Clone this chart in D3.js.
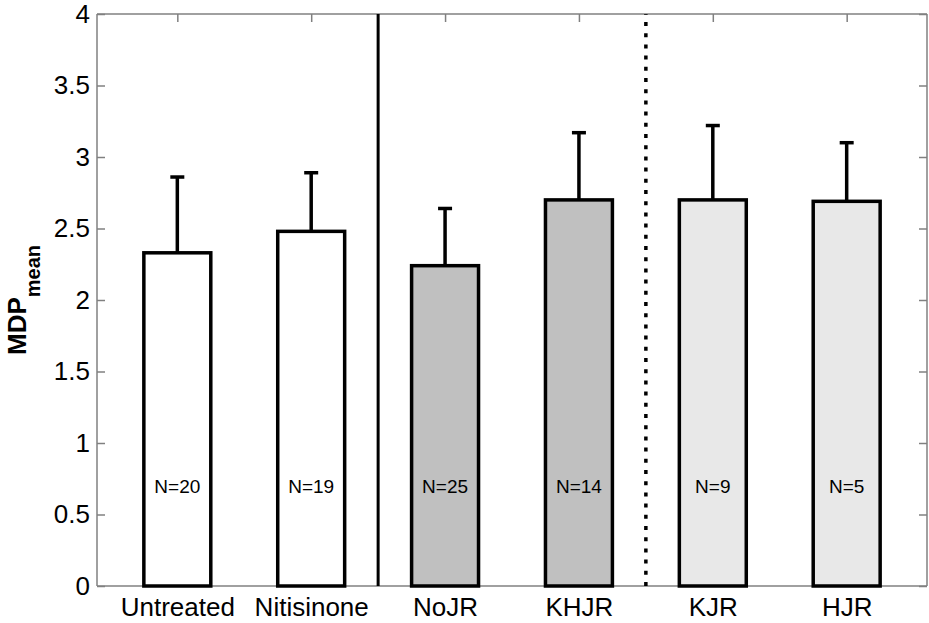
<!DOCTYPE html>
<html>
<head>
<meta charset="utf-8">
<script src="https://cdn.jsdelivr.net/npm/d3@7"></script>
<style>
  body { margin: 0; background: #fff; }
  text { font-family: "Liberation Sans", Arial, sans-serif; }
</style>
</head>
<body>
<script>
var groups = ["Untreated", "Nitisinone", "NoJR", "KHJR", "KJR", "HJR"];
var means = [2.33, 2.48, 2.24, 2.70, 2.70, 2.69];
var errors = [0.53, 0.41, 0.40, 0.47, 0.52, 0.41];
var counts = ["N=20", "N=19", "N=25", "N=14", "N=9", "N=5"];
var fills = ["#ffffff", "#ffffff", "#c0c0c0", "#c0c0c0", "#e8e8e8", "#e8e8e8"];
var yTicks = [0, 0.5, 1, 1.5, 2, 2.5, 3, 3.5, 4];

var width = 929, height = 623;
var margin = { left: 97, right: 2, top: 14, bottom: 37 };

var svg = d3.select("body").append("svg").attr("width", width).attr("height", height);

var x = d3.scaleLinear().domain([0.4, 6.6]).range([margin.left, width - margin.right]);
var y = d3.scaleLinear().domain([0, 4]).range([height - margin.bottom, margin.top]);
var barW = x(1.5) - x(1);

// axes first so the bars sit on top of the box
var axisColor = "#808080";
var axLeft = svg.append("g")
  .attr("transform", `translate(${margin.left},0)`)
  .call(d3.axisLeft(y).tickValues(yTicks).tickSize(-8).tickPadding(7).tickFormat(d3.format("")));
var axRight = svg.append("g")
  .attr("transform", `translate(${width - margin.right},0)`)
  .call(d3.axisRight(y).tickValues(yTicks).tickSize(-8).tickFormat(""));
var axTop = svg.append("g")
  .attr("transform", `translate(0,${margin.top})`)
  .call(d3.axisTop(x).tickValues(d3.range(1, 7)).tickSize(-8).tickFormat(""));
var axBottom = svg.append("g")
  .attr("transform", `translate(0,${height - margin.bottom})`)
  .call(d3.axisBottom(x).tickValues(d3.range(1, 7)).tickSize(0).tickPadding(12)
    .tickFormat((d) => groups[d - 1]));

[axLeft, axRight, axTop, axBottom].forEach((g) => {
  g.select(".domain").attr("stroke", axisColor).attr("stroke-width", 1.5);
  g.selectAll(".tick line").attr("stroke", axisColor).attr("stroke-width", 1.5);
  g.selectAll("text").attr("fill", "#000").attr("font-size", 26)
    .attr("font-family", "'Liberation Sans', Arial, sans-serif");
});
axLeft.select(".domain").attr("d", `M0,${y(0)}V${y(4)}`);
axRight.select(".domain").attr("d", `M0,${y(0)}V${y(4)}`);
axTop.select(".domain").attr("d", `M${margin.left},0H${width - margin.right}`);
axBottom.select(".domain").attr("d", `M${margin.left},0H${width - margin.right}`);

// bars
svg.append("g")
  .selectAll("rect")
  .data(means)
  .enter()
  .append("rect")
  .attr("x", (d, i) => x(i + 1) - barW / 2)
  .attr("y", (d) => y(d))
  .attr("width", barW)
  .attr("height", (d) => y(0) - y(d))
  .attr("fill", (d, i) => fills[i])
  .attr("stroke", "#000")
  .attr("stroke-width", 3.5);

// error bars (upper only)
var err = svg.append("g").attr("stroke", "#000").attr("stroke-width", 3.5);
err.selectAll("line.v")
  .data(means)
  .enter()
  .append("line")
  .attr("class", "v")
  .attr("x1", (d, i) => x(i + 1))
  .attr("x2", (d, i) => x(i + 1))
  .attr("y1", (d) => y(d))
  .attr("y2", (d, i) => y(d + errors[i]));
err.selectAll("line.c")
  .data(means)
  .enter()
  .append("line")
  .attr("class", "c")
  .attr("x1", (d, i) => x(i + 1) - 7)
  .attr("x2", (d, i) => x(i + 1) + 7)
  .attr("y1", (d, i) => y(d + errors[i]))
  .attr("y2", (d, i) => y(d + errors[i]));

// N labels
svg.append("g")
  .selectAll("text")
  .data(counts)
  .enter()
  .append("text")
  .attr("x", (d, i) => x(i + 1))
  .attr("y", y(0.7))
  .attr("dy", "0.35em")
  .attr("text-anchor", "middle")
  .attr("font-size", 19)
  .text((d) => d);

// separators
svg.append("line")
  .attr("x1", x(2.5)).attr("x2", x(2.5))
  .attr("y1", y(0)).attr("y2", y(4))
  .attr("stroke", "#000").attr("stroke-width", 3);
svg.append("line")
  .attr("x1", x(4.5)).attr("x2", x(4.5))
  .attr("y1", y(0)).attr("y2", y(4))
  .attr("stroke", "#000").attr("stroke-width", 3.5)
  .attr("stroke-dasharray", "4,7.2");

// y label
var ylab = svg.append("text")
  .attr("transform", `translate(26,${y(2)}) rotate(-90)`)
  .attr("text-anchor", "middle")
  .attr("font-weight", "bold")
  .attr("font-size", 26);
ylab.append("tspan").text("MDP");
ylab.append("tspan").attr("font-size", 20).attr("dy", 14).text("mean");
</script>
</body>
</html>
